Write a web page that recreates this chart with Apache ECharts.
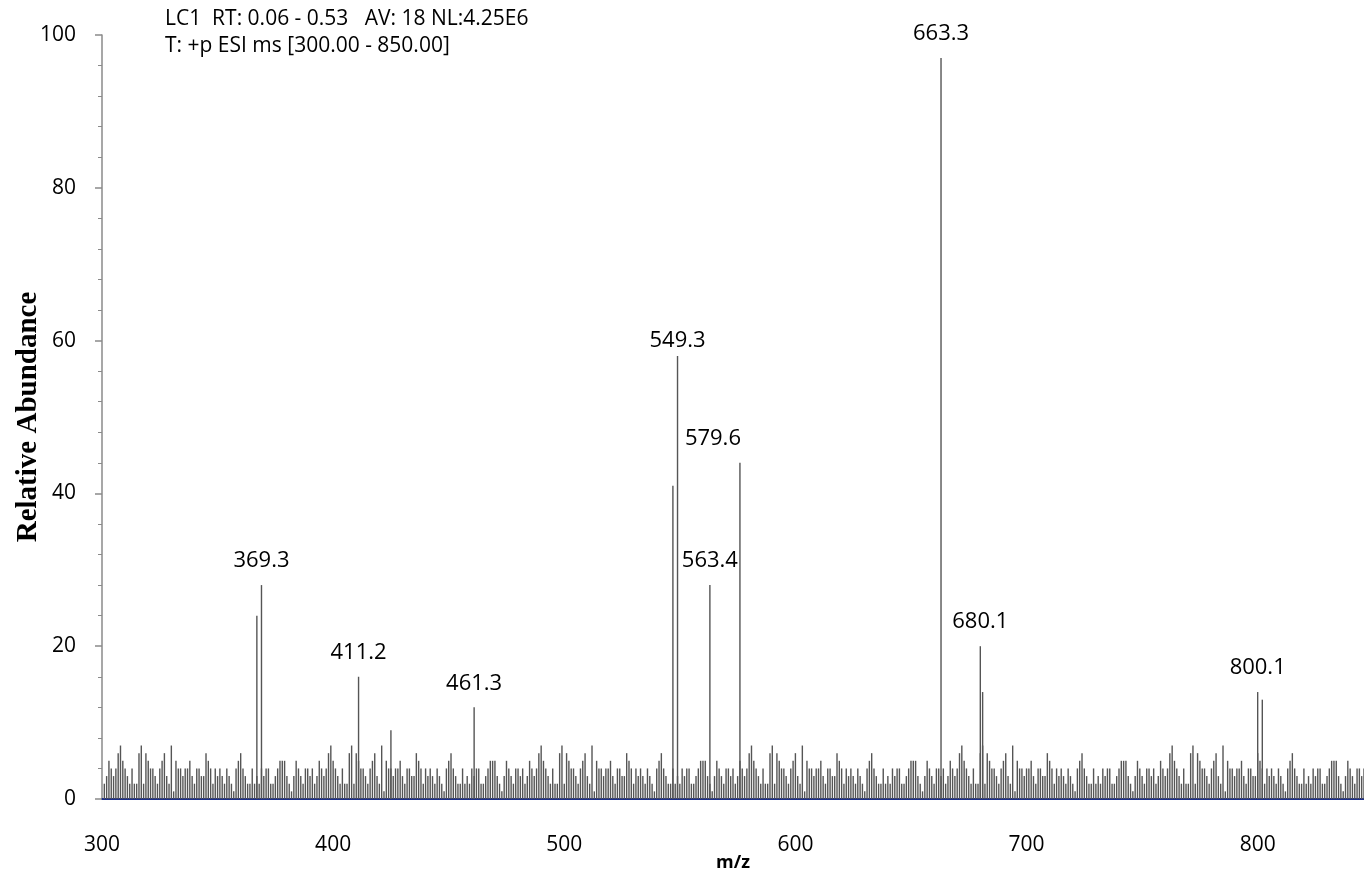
<!DOCTYPE html>
<html>
<head>
<meta charset="utf-8">
<title>ESI mass spectrum</title>
<script src="https://cdn.jsdelivr.net/npm/echarts@6/dist/echarts.min.js"></script>
<style>
  html, body { margin: 0; padding: 0; background: #fff; }
  #chart { width: 1364px; height: 873px; }
</style>
</head>
<body>
<div id="chart"></div>
<script>
// noise bars, one per m/z unit, starting at firstMz
var firstMz = 301;
var noiseAbund = [
  2,3,5,4,3,4,6,7,5,4, 3,2,4,2,2,6,7,2,6,5, 4,4,3,2,4,5,6,3,2,7, 1,5,4,4,3,4,4,5,3,2,
  4,4,3,3,6,5,4,2,4,3, 4,3,2,4,3,2,1,4,5,6, 4,3,2,2,4,2,3,2,4,3, 4,4,2,2,3,4,5,5,5,3,
  2,1,3,5,4,3,2,4,4,3, 4,
  2,3,5,4,3,4,6,7,5,4, 3,2,4,2,2,6,7,2,6,5, 4,4,3,2,4,5,6,3,2,7, 1,5,4,4,3,4,4,5,3,2,
  4,4,3,3,6,5,4,2,4,3, 4,3,2,4,3,2,1,4,5,6, 4,3,2,2,4,2,3,2,4,3, 4,4,2,2,3,4,5,5,5,3,
  2,1,3,5,4,3,2,4,4,3, 4,
  2,3,5,4,3,4,6,7,5,4, 3,2,4,2,2,6,7,2,6,5, 4,4,3,2,4,5,6,3,2,7, 1,5,4,4,3,4,4,5,3,2,
  4,4,3,3,6,5,4,2,4,3, 4,3,2,4,3,2,1,4,5,6, 4,3,2,2,4,2,3,2,4,3, 4,4,2,2,3,4,5,5,5,3,
  2,1,3,5,4,3,2,4,4,3, 4,
  2,3,5,4,3,4,6,7,5,4, 3,2,4,2,2,6,7,2,6,5, 4,4,3,2,4,5,6,3,2,7, 1,5,4,4,3,4,4,5,3,2,
  4,4,3,3,6,5,4,2,4,3, 4,3,2,4,3,2,1,4,5,6, 4,3,2,2,4,2,3,2,4,3, 4,4,2,2,3,4,5,5,5,3,
  2,1,3,5,4,3,2,4,4,3, 4,
  2,3,5,4,3,4,6,7,5,4, 3,2,4,2,2,6,7,2,6,5, 4,4,3,2,4,5,6,3,2,7, 1,5,4,4,3,4,4,5,3,2,
  4,4,3,3,6,5,4,2,4,3, 4,3,2,4,3,2,1,4,5,6, 4,3,2,2,4,2,3,2,4,3, 4,4,2,2,3,4,5,5,5,3,
  2,1,3,5,4,3,2,4,4,3, 4,
  2,3,5,4,3,4,6,7,5,4, 3,2,4,2,2,6,7,2,6,5, 4,4,3,2,4,5,6,3,2,7, 1,5,4,4,3,4,4,5,3,2,
  4,4,3,3,6,5,4,2,4,3, 4,3,2,4,3,2,1,4,5,6, 4,3,2,2,4,2,3,2,4,3, 4,4,2,2,3,4,5,5,5,3,
  2,1,3,5,4,3,2,4,4,3, 4
];

// main peaks
var peakMz     = [367, 369, 411, 425, 461, 547, 549, 563, 576, 663, 680, 681, 800, 802];
var peakAbund  = [24, 28, 16, 9, 12, 41, 58, 28, 44, 97, 20, 14, 14, 13];
var peakLabels = ['', '369.3', '411.2', '', '461.3', '', '549.3', '563.4', '579.6', '663.3', '680.1', '', '800.1', ''];

var xTicks = [300, 400, 500, 600, 700, 800];
var yTicks = [0, 20, 40, 60, 80, 100];

var headerLines = [
  'LC1  RT: 0.06 - 0.53   AV: 18 NL:4.25E6',
  'T: +p ESI ms [300.00 - 850.00]'
];

var FONT = '"Open Sans", "Liberation Sans", sans-serif';
var BAR_COLOR = '#555555';

var noiseData = [];
for (var i = 0; i < noiseAbund.length; i++) {
  noiseData.push([firstMz + i, noiseAbund[i]]);
}

var peakData = [];
for (var j = 0; j < peakMz.length; j++) {
  var item = { value: [peakMz[j], peakAbund[j]] };
  if (peakLabels[j] === '579.6') {
    item.label = { offset: [-27, 0] };
  }
  if (peakLabels[j] === '549.3') {
    item.label = { distance: 4 };
  }
  peakData.push(item);
}

var chart = echarts.init(document.getElementById('chart'));

var option = {
  animation: false,
  backgroundColor: '#ffffff',
  grid: {
    left: 102, right: 0, top: 35, bottom: 74,
    containLabel: false,
    outerBoundsMode: 'none'
  },
  graphic: [
    { type: 'text', left: 165, top: 9,
      style: { text: headerLines[0], font: '21px ' + FONT, fill: '#000' } },
    { type: 'text', left: 165, top: 36,
      style: { text: headerLines[1], font: '21px ' + FONT, fill: '#000' } }
  ],
  xAxis: {
    type: 'value',
    min: xTicks[0],
    max: 846,
    interval: 100,
    name: 'm/z',
    nameLocation: 'middle',
    nameGap: 55,
    nameMoveOverlap: false,
    nameTextStyle: { fontFamily: FONT, fontWeight: 'bold', fontSize: 18, color: '#000' },
    axisLine: { show: true, lineStyle: { color: '#1c2f8c', width: 2 } },
    axisTick: { show: false },
    axisLabel: {
      fontFamily: FONT, fontSize: 21, color: '#000', margin: 36,
      showMaxLabel: false
    },
    splitLine: { show: false }
  },
  yAxis: {
    type: 'value',
    min: yTicks[0],
    max: yTicks[yTicks.length - 1],
    interval: 20,
    name: 'Relative Abundance',
    nameLocation: 'middle',
    nameGap: 59,
    nameMoveOverlap: false,
    nameTextStyle: {
      fontFamily: '"Liberation Serif", "DejaVu Serif", serif',
      fontWeight: 'bold', fontSize: 29, color: '#000'
    },
    axisLine: { show: true, lineStyle: { color: '#8a8a8a', width: 1.5 } },
    axisTick: { show: true, length: 7, lineStyle: { color: '#8a8a8a', width: 1.5 } },
    minorTick: { show: true, splitNumber: 5, length: 4, lineStyle: { color: '#8a8a8a', width: 1 } },
    axisLabel: { fontFamily: FONT, fontSize: 21, color: '#000', margin: 26 },
    splitLine: { show: false }
  },
  series: [
    {
      name: 'noise',
      type: 'bar',
      data: noiseData,
      barWidth: 1.4,
      barGap: '-100%',
      itemStyle: { color: BAR_COLOR },
      z: 2
    },
    {
      name: 'peaks',
      type: 'bar',
      data: peakData,
      barWidth: 1.4,
      barGap: '-100%',
      itemStyle: { color: BAR_COLOR },
      label: {
        show: true,
        position: 'top',
        distance: 13,
        fontFamily: FONT,
        fontSize: 22,
        color: '#000',
        formatter: function (p) {
          return peakLabels[p.dataIndex];
        }
      },
      z: 3
    }
  ]
};

chart.setOption(option);
</script>
</body>
</html>
